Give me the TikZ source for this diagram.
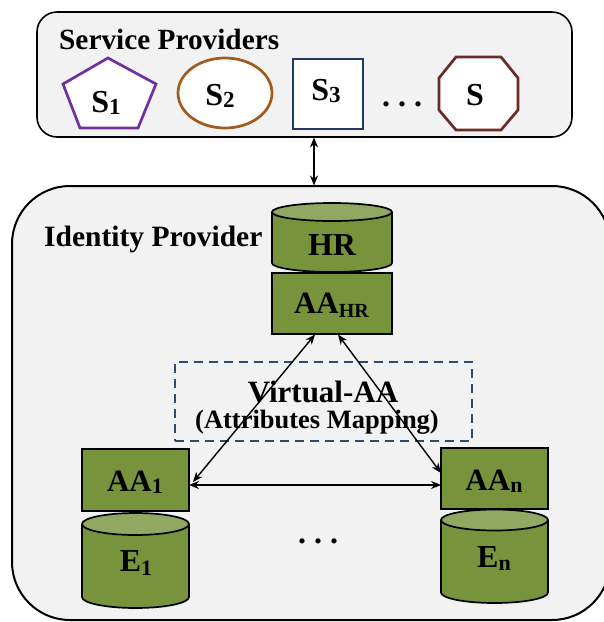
\documentclass[tikz,border=0pt]{standalone}
\usepackage{fontspec}
\setmainfont{Liberation Serif}
\usetikzlibrary{arrows.meta,shapes.geometric}
\definecolor{boxgray}{HTML}{F2F2F2}
\definecolor{spurple}{HTML}{7030A0}
\definecolor{sbrown}{HTML}{A25B1C}
\definecolor{sblue}{HTML}{1F3B63}
\definecolor{sred}{HTML}{6B2B26}
\definecolor{dashblue}{HTML}{2F4B6E}
\definecolor{aagreen}{HTML}{77933C}
\definecolor{topgreen}{HTML}{91A862}
\newcommand\myfs[1]{\fontsize{#1}{#1}\selectfont}
\newcommand\lsub[3]{\raisebox{-#1pt}{\myfs{#2}#3}}
\begin{document}
\begin{tikzpicture}[x=1pt,y=-1pt,
  lab/.style={font=\bfseries, inner sep=0pt, anchor=base},
  greenbox/.style={draw, line width=1.7pt, fill=aagreen, inner sep=0pt},
  panel/.style={draw, fill=boxgray, inner sep=0pt},
  sshape/.style={line width=2.7pt, fill=white},
  arr/.style={{Stealth[length=10pt,width=8pt]}-{Stealth[length=10pt,width=8pt]}, line width=1.4pt},
]
\useasboundingbox (0,0) rectangle (604,622);
\clip (0,0) rectangle (604,622);
% panels
\node[panel, line width=1.6pt, rounded corners=20pt, minimum width=535pt, minimum height=125pt] (sp) at (304.5,74.5) {};
\node[panel, line width=2pt, rounded corners=58pt, minimum width=598pt, minimum height=434pt] (idp) at (311,403) {};
\node[lab, anchor=base west, font=\bfseries\myfs{29.3}] (sptitle) at (59,49) {Service Providers};
\node[lab, anchor=base west, font=\bfseries\myfs{29.5}] (idptitle) at (44,246) {Identity Provider};
% service provider shapes
\draw[sshape, draw=spurple, line join=miter] (108,58) -- (156,84) -- (138,128) -- (80,128) -- (63,84) -- cycle;
\node[sshape, draw=sbrown, ellipse, minimum width=94pt, minimum height=70pt, inner sep=0pt] (s2shape) at (225,93) {};
\node[sshape, draw=sblue, minimum width=70pt, minimum height=70pt, inner sep=0pt] (s3shape) at (328,94) {};
\draw[sshape, draw=sred] (456,57) -- (501,57) -- (518,78) -- (518,110) -- (501,130) -- (456,130) -- (439,110) -- (439,78) -- cycle;
\node[lab, font=\bfseries\myfs{32}] (s1) at (106,112) {S\lsub{2}{23}{1}};
\node[lab, font=\bfseries\myfs{32}] (s2) at (220,105) {S\lsub{2}{23}{2}};
\node[lab, font=\bfseries\myfs{32}] (s3) at (326,100) {S\lsub{2}{23}{3}};
\node[lab, font=\bfseries\myfs{32}] (sn) at (475,105) {S};
\node[lab, font=\bfseries\myfs{32}] (dots1) at (402,106) {.\hspace{8pt}.\hspace{8pt}.};
% HR cylinder
\fill[aagreen] (272,212) rectangle (392,263);
\draw[line width=1.7pt, fill=aagreen] (272,212) -- (272,263) arc[start angle=180, end angle=0, x radius=60, y radius=9] -- (392,212);
\draw[line width=1.7pt, fill=topgreen] (332,212) ellipse[x radius=60, y radius=9];
\node[lab, font=\bfseries\myfs{32}] (hr) at (332,255) {HR};
% AA_HR
\node[greenbox, minimum width=120pt, minimum height=61pt] (aahr) at (332,303.5) {};
\node[lab, font=\bfseries\myfs{31}] (aahrt) at (331.5,313) {AA\lsub{4}{20}{HR}};
% Virtual AA
\node[draw=dashblue, line width=2pt, dash pattern=on 9pt off 6pt, minimum width=297pt, minimum height=79pt, inner sep=0pt] (vaa) at (323.5,401.5) {};
\node[lab, font=\bfseries\myfs{31}] (vaat) at (323,402) {Virtual-AA};
\node[lab, font=\bfseries\myfs{26.5}] (vaam) at (317,428) {(Attributes Mapping)};
% AA1 and E1
\node[greenbox, minimum width=107pt, minimum height=62pt] (aa1) at (135.5,480) {};
\node[lab, font=\bfseries\myfs{31}] (aa1t) at (135,491) {AA\lsub{2}{22}{1}};
\fill[aagreen] (82,524) rectangle (189,597);
\draw[line width=1.7pt, fill=aagreen] (82,524) -- (82,597) arc[start angle=180, end angle=0, x radius=53.5, y radius=11] -- (189,524);
\draw[line width=1.7pt, fill=topgreen] (135.5,524) ellipse[x radius=53.5, y radius=11];
\node[lab, font=\bfseries\myfs{32}] (e1) at (136,571) {E\lsub{4}{22}{1}};
% AAn and En
\node[greenbox, minimum width=107pt, minimum height=61pt] (aan) at (494.5,478.5) {};
\node[lab, font=\bfseries\myfs{31}] (aant) at (494,490) {AA\lsub{2}{22}{n}};
\fill[aagreen] (441,520) rectangle (548,592.5);
\draw[line width=1.7pt, fill=aagreen] (441,520) -- (441,592.5) arc[start angle=180, end angle=0, x radius=53.5, y radius=10.5] -- (548,520);
\draw[line width=1.7pt, fill=topgreen] (494.5,520) ellipse[x radius=53.5, y radius=10.5];
\node[lab, font=\bfseries\myfs{32}] (en) at (494,567) {E\lsub{3}{22}{n}};
\node[lab, font=\bfseries\myfs{32}] (dots2) at (318,543) {.\hspace{8pt}.\hspace{8pt}.};
% connectors
\coordinate (spb) at (314,137.5);
\coordinate (idpt) at (314,185.5);
\coordinate (hrL) at (315,334.5);
\coordinate (hrR) at (338,334.5);
\coordinate (aa1d) at (193,482);
\coordinate (aa1h) at (189,485);
\coordinate (aand) at (441,473);
\coordinate (aanh) at (441,485);
\draw[arr] (spb) -- (idpt);
\draw[arr] (hrL) -- (aa1d);
\draw[arr] (hrR) -- (aand);
\draw[arr] (aa1h) -- (aanh);
\end{tikzpicture}
\end{document}
